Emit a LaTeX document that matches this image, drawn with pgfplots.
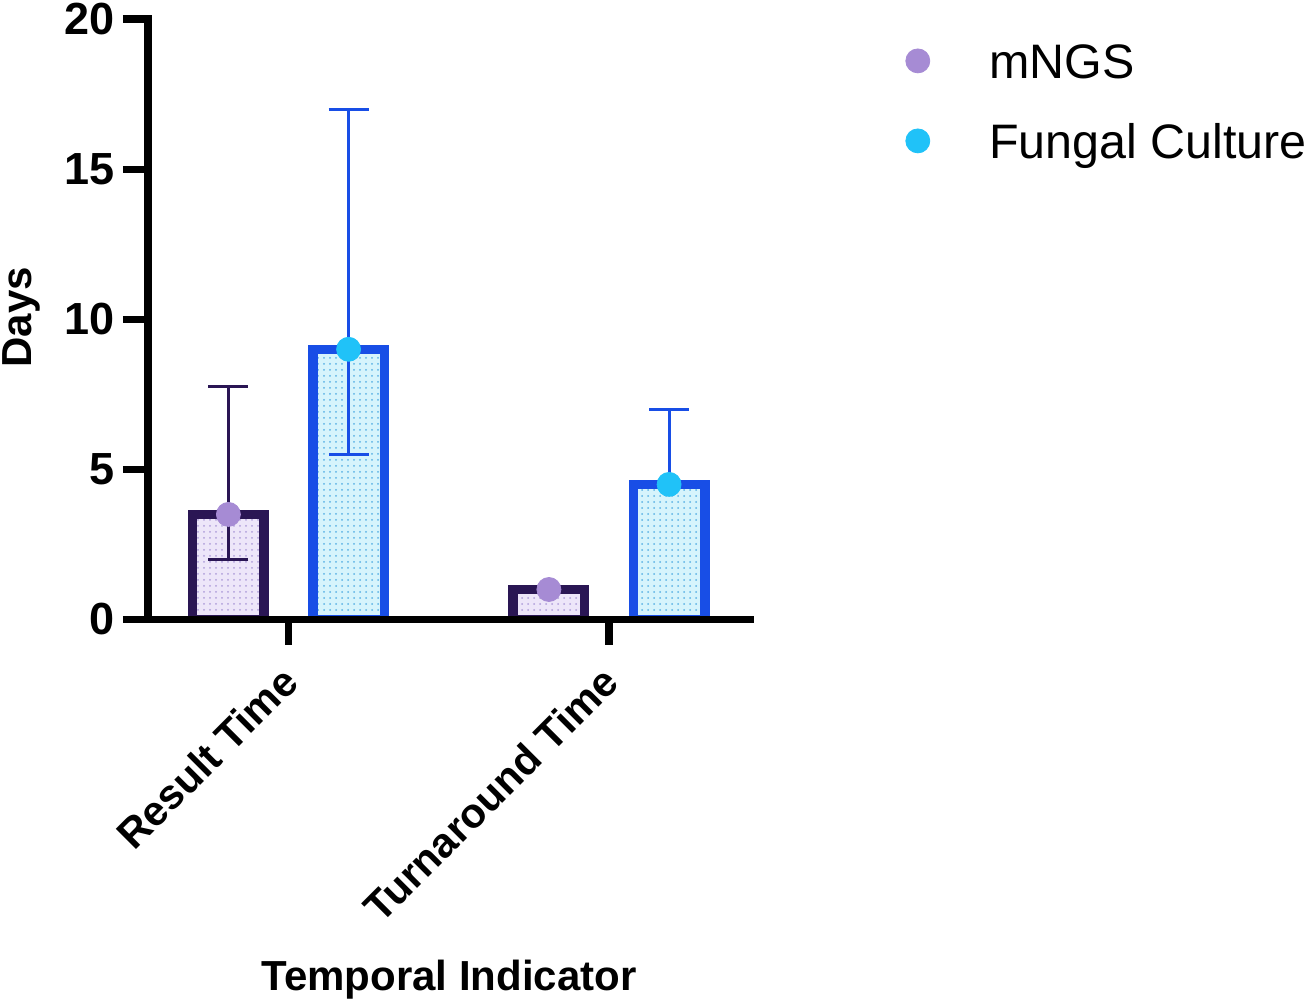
\documentclass[border=0pt]{standalone}
\usepackage{fontspec}
\setmainfont{Liberation Sans}
\usepackage{pgfplots}
\pgfplotsset{compat=1.18}
\usetikzlibrary{patterns}
\definecolor{mngsdark}{RGB}{42,22,84}
\definecolor{fungdark}{RGB}{24,78,230}
\definecolor{mngsfill}{RGB}{237,230,249}
\definecolor{fungfill}{RGB}{214,244,252}
\definecolor{mngsdot}{RGB}{166,139,212}
\definecolor{fungdot}{RGB}{32,194,248}
\definecolor{mngspat}{RGB}{175,158,218}
\definecolor{fungpat}{RGB}{90,178,228}
\begin{document}
\begin{tikzpicture}
\useasboundingbox (-74pt,-190.25pt) rectangle (583.5pt,309.75pt);
\begin{axis}[
  at={(0,0)}, anchor=south west,
  scale only axis, width=301pt, height=300.25pt,
  xmin=0.5616, xmax=2.44, ymin=0, ymax=20,
  axis lines=left,
  axis line style={-, line width=3.6pt, line cap=rect, black},
  axis on top,
  tick align=outside,
  major tick length=12.5pt,
  tick style={line width=3.6pt, black},
  xtick={1,2}, xticklabels={Result Time, Turnaround Time},
  ytick={0,5,10,15,20},
  /pgf/number format/assume math mode=true,
  yticklabel style={font=\bfseries\fontsize{22.5}{27}\selectfont, inner sep=0pt, xshift=-4pt},
  xticklabel style={xshift=2.25pt, yshift=-13.5pt, rotate=45, anchor=east, font=\bfseries\fontsize{20.8}{25}\selectfont, inner sep=2pt},
  xlabel={Temporal Indicator},
  ylabel={Days},
  xlabel style={at={(axis description cs:0.5,-0.599)}, anchor=center, font=\bfseries\fontsize{21}{25}\selectfont},
  ylabel style={at={(axis description cs:-0.211,0.503)}, anchor=center, font=\bfseries\fontsize{21}{25}\selectfont},
  legend style={at={(1.2575,0.9597)}, anchor=north west, draw=none, fill=none, inner sep=0pt,
    font=\fontsize{24.2}{29}\selectfont,
    nodes={inner sep=0pt, text height=17.3pt, text depth=0pt},
    row sep=22.7pt,
    /tikz/every odd column/.append style={column sep=29.5pt}},
  legend cell align=left,
]
% bars
\addplot[ybar, bar width=0.223, bar shift=0pt, draw=mngsdark, line width=4.75pt,
  preaction={fill=mngsfill}, pattern=dots, pattern color=mngspat, forget plot]
  coordinates {(0.8125,3.5) (1.8125,1)};
\addplot[ybar, bar width=0.223, bar shift=0pt, draw=fungdark, line width=4.75pt,
  preaction={fill=fungfill}, pattern=dots, pattern color=fungpat, forget plot]
  coordinates {(1.1875,9) (2.1875,4.5)};
% error bars
\addplot[only marks, mark=none, forget plot,
  error bars/.cd, y dir=both, y explicit,
  error bar style={draw=mngsdark, line width=1.5pt, solid},
  error mark options={draw=mngsdark, rotate=90, mark size=10pt, line width=1.5pt}]
  coordinates {(0.8125,3.5) += (0,4.25) -= (0,1.5)};
\addplot[only marks, mark=none, forget plot,
  error bars/.cd, y dir=both, y explicit,
  error bar style={draw=fungdark, line width=1.5pt, solid},
  error mark options={draw=fungdark, rotate=90, mark size=10pt, line width=1.5pt}]
  coordinates {(1.1875,9) += (0,8) -= (0,3.5) (2.1875,4.5) += (0,2.5) -= (0,0)};
% dots
\addplot[only marks, mark=*, mark size=6pt, color=mngsdot, mark options={draw=none, fill=mngsdot},
  legend image code/.code={\fill[mngsdot] (0pt,0pt) circle (6pt);}]
  coordinates {(0.8125,3.5) (1.8125,1)};
\addlegendentry{mNGS}
\addplot[only marks, mark=*, mark size=6pt, color=fungdot, mark options={draw=none, fill=fungdot},
  legend image code/.code={\fill[fungdot] (0pt,0pt) circle (6pt);}]
  coordinates {(1.1875,9) (2.1875,4.5)};
\addlegendentry{Fungal Culture}
\end{axis}
\end{tikzpicture}
\end{document}
